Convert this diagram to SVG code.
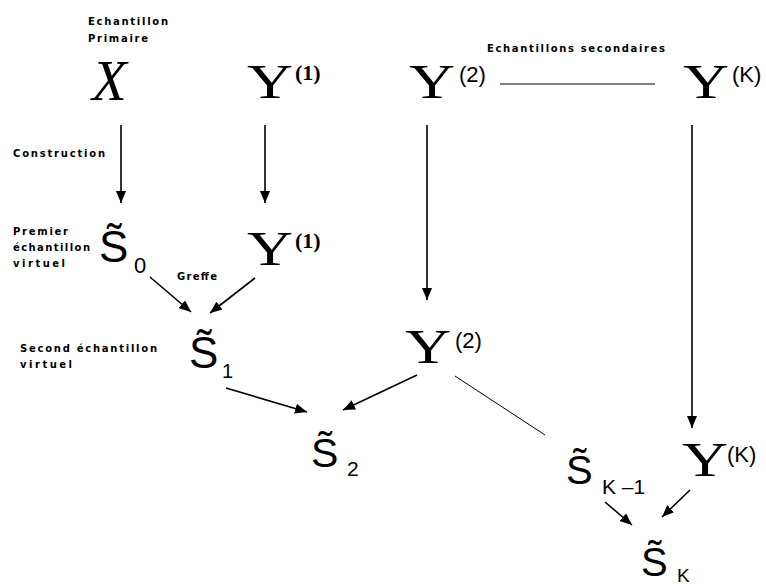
<svg xmlns="http://www.w3.org/2000/svg" width="766" height="585" viewBox="0 0 766 585">
<defs>
<style>
.lbl{font-family:"DejaVu Sans","Liberation Sans",sans-serif;font-weight:bold;font-size:10px;fill:#000}
.ser{font-family:"Liberation Serif","Times New Roman",serif;fill:#000}
.san{font-family:"Liberation Sans",Arial,sans-serif;fill:#000}
.arr{stroke:#000;stroke-width:1.6;fill:none;marker-end:url(#ah)}
.thin{stroke:#000;stroke-width:1;fill:none}
</style>
<marker id="ah" markerUnits="userSpaceOnUse" markerWidth="12" markerHeight="10" viewBox="0 0 12 10" refX="12" refY="5" orient="auto">
<path d="M0,0 L12,5 L0,10 Z" fill="#000"/>
</marker>
</defs>
<rect width="766" height="585" fill="#fff"/>

<g id="labels">
<text class="lbl" x="88" y="25" textLength="80" lengthAdjust="spacing">Echantillon</text>
<text class="lbl" x="88" y="42" textLength="60" lengthAdjust="spacing">Primaire</text>
<text class="lbl" x="487" y="52" textLength="178" lengthAdjust="spacing">Echantillons secondaires</text>
<text class="lbl" x="13" y="157" textLength="92" lengthAdjust="spacing">Construction</text>
<text class="lbl" x="13" y="235" textLength="55" lengthAdjust="spacing">Premier</text>
<text class="lbl" x="13" y="251" textLength="77" lengthAdjust="spacing">échantillon</text>
<text class="lbl" x="13" y="267" textLength="52" lengthAdjust="spacing">virtuel</text>
<text class="lbl" x="177" y="280" textLength="40" lengthAdjust="spacing">Greffe</text>
<text class="lbl" x="20" y="352" textLength="137" lengthAdjust="spacing">Second échantillon</text>
<text class="lbl" x="20" y="368" textLength="52" lengthAdjust="spacing">virtuel</text>
</g>

<g id="connectors">
<line class="arr" x1="121" y1="125" x2="121" y2="203"/>
<line class="arr" x1="265" y1="125" x2="265" y2="203"/>
<line class="arr" x1="427" y1="125" x2="427" y2="300"/>
<line class="arr" x1="692" y1="125" x2="692" y2="428"/>
<line class="arr" x1="150" y1="277" x2="191" y2="312"/>
<line class="arr" x1="255" y1="278" x2="210" y2="313"/>
<line class="arr" x1="226" y1="388" x2="307" y2="412"/>
<line class="arr" x1="417" y1="375" x2="343" y2="410"/>
<line class="arr" x1="605" y1="502" x2="632" y2="525"/>
<line class="arr" x1="690" y1="490" x2="662" y2="517"/>
<line class="thin" x1="500" y1="84" x2="655" y2="84"/>
<line class="thin" x1="455" y1="376" x2="545" y2="435" stroke="#333"/>
</g>

<g id="X">
<text class="ser" x="92" y="100" font-size="57" font-style="italic">X</text>
</g>
<g id="Y1-top">
<text class="ser" x="247" y="98" font-size="48" textLength="46" lengthAdjust="spacingAndGlyphs">Y</text>
<text class="ser" x="295" y="80" font-size="22" font-weight="bold">(1)</text>
</g>
<g id="Y2-top">
<text class="ser" x="409" y="98" font-size="48" textLength="46" lengthAdjust="spacingAndGlyphs">Y</text>
<text class="san" x="459" y="82" font-size="22">(2)</text>
</g>
<g id="YK-top">
<text class="ser" x="683" y="98" font-size="48" textLength="46" lengthAdjust="spacingAndGlyphs">Y</text>
<text class="san" x="732" y="82" font-size="22">(K)</text>
</g>

<g id="S0">
<text class="san" x="99" y="262" font-size="44">S&#x303;</text>
<text class="san" x="134" y="273" font-size="22">0</text>
</g>
<g id="Y1-mid">
<text class="ser" x="247" y="265" font-size="48" textLength="46" lengthAdjust="spacingAndGlyphs">Y</text>
<text class="ser" x="295" y="248" font-size="22" font-weight="bold">(1)</text>
</g>
<g id="S1">
<text class="san" x="189" y="368" font-size="44">S&#x303;</text>
<text class="san" x="222" y="378" font-size="20">1</text>
</g>
<g id="Y2-mid">
<text class="ser" x="405" y="363" font-size="48" textLength="46" lengthAdjust="spacingAndGlyphs">Y</text>
<text class="san" x="455" y="348" font-size="22">(2)</text>
</g>
<g id="S2">
<text class="san" x="311" y="467" font-size="41">S&#x303;</text>
<text class="san" x="347" y="476" font-size="21">2</text>
</g>
<g id="SK-1">
<text class="san" x="566" y="484" font-size="40">S&#x303;</text>
<text class="san" x="602" y="494" font-size="21">K –1</text>
</g>
<g id="YK-mid">
<text class="ser" x="682" y="476" font-size="48" textLength="46" lengthAdjust="spacingAndGlyphs">Y</text>
<text class="san" x="727" y="462" font-size="22">(K)</text>
</g>
<g id="SK">
<text class="san" x="641" y="576" font-size="40">S&#x303;</text>
<text class="san" x="677" y="582" font-size="19">K</text>
</g>
</svg>
